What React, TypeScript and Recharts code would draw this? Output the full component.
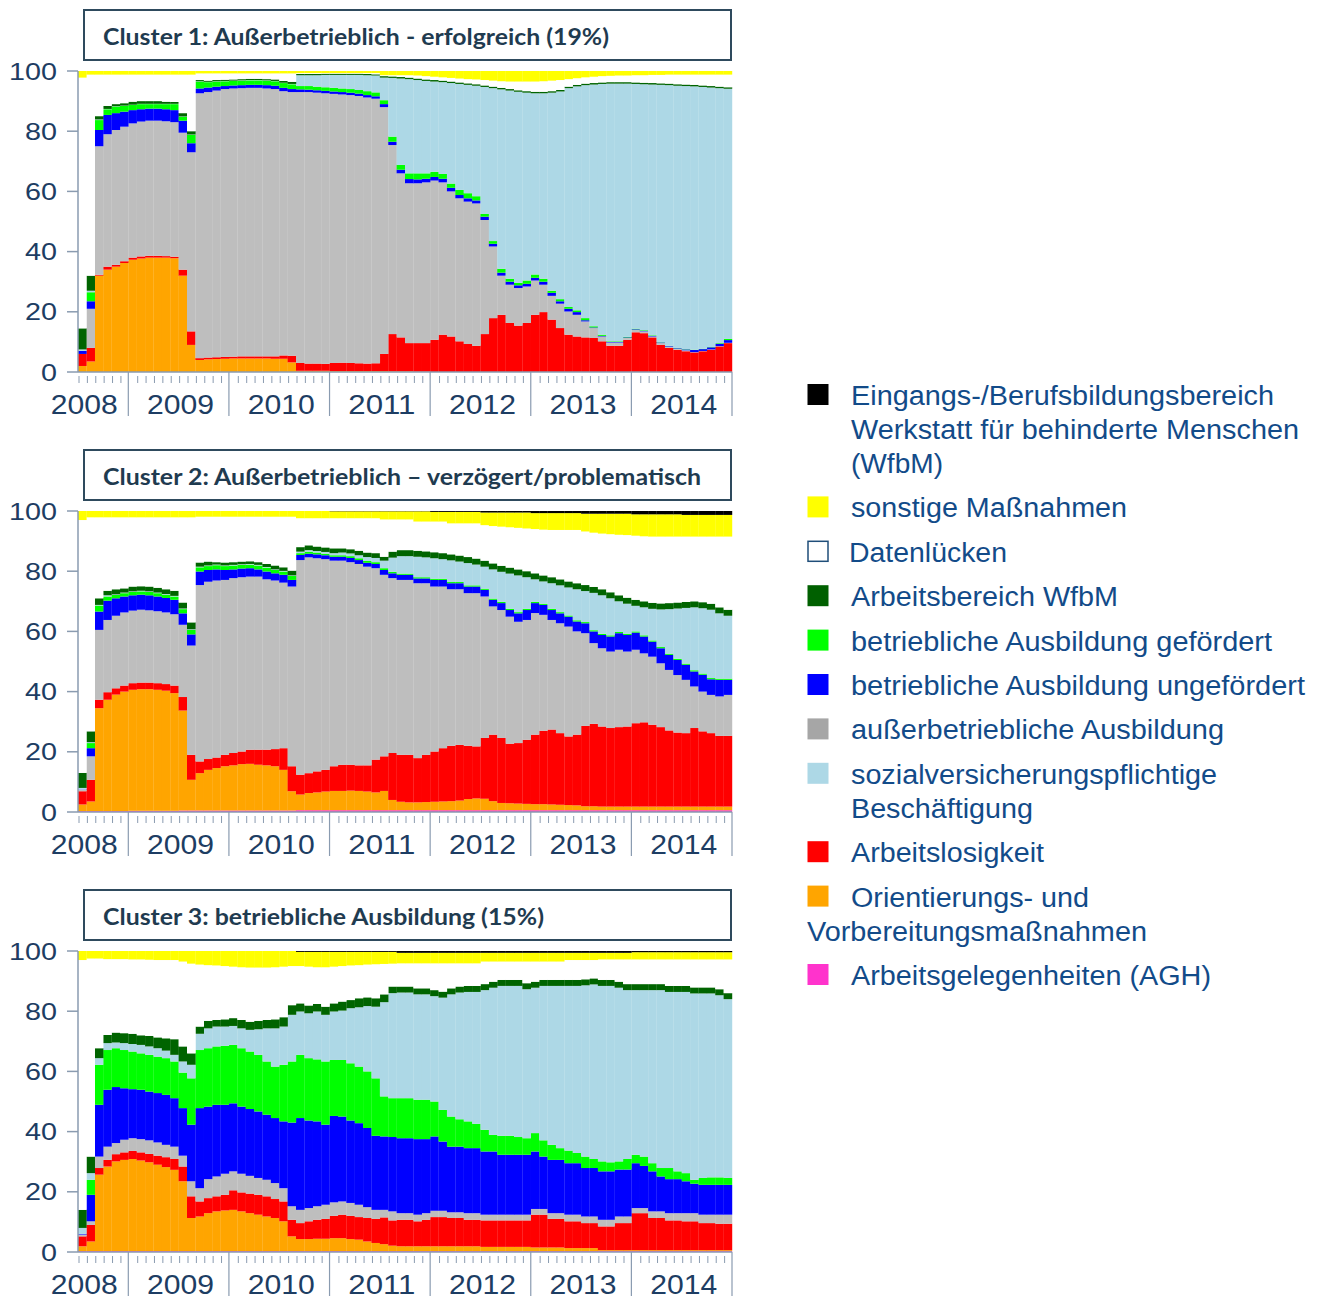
import { BarChart, Bar, XAxis, YAxis } from 'recharts'

// Monate Juli 2008 bis Dezember 2014
const YEARS = ['2008', '2009', '2010', '2011', '2012', '2013', '2014']
const MONTHS: string[] = []
YEARS.forEach((y, yi) => {
  for (let mo = yi === 0 ? 7 : 1; mo <= 12; mo++) MONTHS.push(`${y}-${String(mo).padStart(2, '0')}`)
})

const Y_TICKS = [0, 20, 40, 60, 80, 100]

// Obere Kanten der gestapelten Zustände in Prozent, je Monat
// Cluster 1
const c1Orange = [
  2, 3.5, 32, 34, 35, 36.2,
  37.3, 37.7, 38, 38, 38, 37.8, 32, 9, 4, 4.2, 4.3, 4.4,
  4.5, 4.5, 4.5, 4.5, 4.5, 4.4, 4.4, 3.2, 0.4, 0.4, 0.4, 0.4,
  0.3, 0.3, 0.3, 0.3, 0.3, 0.3, 0.3, 0.2, 0.2, 0.2, 0.1, 0.1,
  0, 0, 0, 0, 0, 0, 0, 0, 0, 0, 0, 0,
  0, 0, 0, 0, 0, 0, 0, 0, 0, 0, 0, 0,
  0, 0, 0, 0, 0, 0, 0, 0, 0, 0, 0, 0,
]
const c1Red = [
  6, 8, 32.3, 35, 35.6, 36.8,
  38, 38.4, 38.6, 38.6, 38.5, 38.3, 34, 13.5, 4.6, 4.8, 4.9, 5,
  5.1, 5.2, 5.2, 5.2, 5.2, 5.2, 5.5, 5.4, 3, 2.8, 2.8, 2.7,
  3, 3.1, 3, 2.9, 2.8, 2.9, 6, 12.6, 11.5, 9.6, 9.6, 9.6,
  10.7, 12.4, 11.8, 10.2, 9.3, 8.7, 12.6, 17.9, 19, 16.3, 15.4, 16.3,
  19, 19.9, 17.4, 14.6, 12.4, 11.8, 11.5, 11.3, 10.2, 8.7, 8.7, 10.7,
  13.2, 12.9, 11.5, 9, 8, 7.4, 6.9, 6.5, 6.9, 7.4, 8.5, 9.6,
]
const c1Gray = [
  6, 21, 75, 79, 80.4, 81.5,
  82.6, 83.2, 83.5, 83.5, 83.3, 83, 79.5, 73, 92.6, 93, 93.5, 94,
  94.2, 94.3, 94.4, 94.4, 94.2, 94, 93.3, 93, 93, 93, 92.8, 92.6,
  92.4, 92.2, 92, 91.7, 91.2, 90.8, 88, 75.4, 66, 62.7, 62.7, 63,
  63.6, 63, 60, 57.7, 56.6, 56, 50.5, 41.7, 32, 29, 27.9, 28.4,
  30.4, 29, 25.3, 22.7, 20.1, 19, 16.8, 14.6, 11.8, 9.8, 9.8, 11.3,
  14, 13.5, 11.8, 9.6, 8.4, 7.7, 7.2, 6.6, 7, 7.5, 8.6, 9.7,
]
const c1Blue = [
  7, 23.5, 80.4, 85.4, 86, 86.5,
  87, 87.3, 87.5, 87.5, 87.3, 87, 83.5, 76, 94.2, 94.5, 94.8, 95,
  95.2, 95.3, 95.4, 95.4, 95.3, 95.1, 94.4, 94, 93.9, 93.8, 93.6, 93.4,
  93.2, 93, 92.8, 92.5, 92, 91.6, 89, 76.5, 67.2, 64.1, 64, 64.2,
  64.8, 64.2, 61.2, 58.8, 57.7, 57, 51.6, 42.6, 33, 30, 28.8, 29.3,
  31.3, 30, 26.3, 23.5, 21, 19.9, 17.2, 14.8, 12, 10, 10, 11.5,
  14.2, 13.7, 12, 9.8, 8.6, 7.9, 7.5, 7.3, 7.6, 8.2, 9.4, 10.6,
]
const c1Green = [
  7, 26.5, 83.7, 87.3, 88.2, 88.4,
  88.7, 89, 89, 89, 89, 89, 84.8, 78.8, 96.5, 96.3, 96.5, 96.6,
  96.7, 96.8, 96.9, 96.9, 96.8, 96.6, 96, 95.6, 95, 95, 94.8, 94.6,
  94.4, 94.2, 94, 93.7, 93.3, 92.9, 90.3, 78.2, 68.8, 66, 66, 66,
  66.5, 65.8, 62.6, 60.5, 59.4, 58.4, 52.5, 43.5, 34.3, 31, 29.6, 30.4,
  32.4, 31, 27, 24.2, 21.6, 20.5, 17.9, 15.2, 12.4, 10.2, 10.2, 11.7,
  14.4, 13.9, 12.2, 9.9, 8.7, 8, 7.6, 7.4, 7.7, 8.3, 9.6, 11,
]
const c1LightBlue = [
  7.5, 27, 83.9, 87.4, 88.3, 88.5,
  88.8, 89.1, 89.1, 89.1, 89.1, 89.1, 84.9, 78.9, 96.6, 96.4, 96.6, 96.7,
  96.8, 96.9, 97, 97, 96.9, 96.7, 96.1, 95.7, 98.6, 98.6, 98.6, 98.7,
  98.7, 98.7, 98.7, 98.7, 98.6, 98.5, 97.8, 97.7, 97.5, 97.3, 97, 96.7,
  96.5, 96.3, 96, 95.7, 95.4, 95.1, 94.7, 94.3, 93.9, 93.5, 93.1, 92.8,
  92.6, 92.6, 92.8, 93.2, 94.3, 94.9, 95.3, 95.5, 95.7, 95.8, 95.8, 95.8,
  95.7, 95.6, 95.5, 95.4, 95.3, 95.1, 95, 94.9, 94.7, 94.5, 94.3, 94.1,
]
const c1DarkGreen = [
  14.5, 32, 85, 88.4, 89, 89.3,
  89.8, 90, 90, 90, 89.8, 89.7, 86, 80, 97, 96.8, 97, 97.1,
  97.2, 97.3, 97.4, 97.4, 97.3, 97.2, 96.7, 96.4, 99, 99, 99, 99.1,
  99.1, 99.1, 99.1, 99.1, 99, 98.9, 98.3, 98.2, 98, 97.8, 97.5, 97.2,
  97, 96.8, 96.5, 96.2, 95.9, 95.6, 95.2, 94.8, 94.4, 94, 93.6, 93.3,
  93.1, 93.1, 93.3, 93.7, 94.8, 95.4, 95.8, 96, 96.2, 96.3, 96.3, 96.3,
  96.2, 96.1, 96, 95.9, 95.8, 95.6, 95.5, 95.4, 95.2, 95, 94.8, 94.6,
]
const c1Gap = [
  97.8, 98.8, 98.8, 98.8, 98.8, 98.8,
  98.8, 98.8, 98.8, 98.8, 98.8, 98.8, 98.8, 98.8, 99.2, 99.2, 99.2, 99.2,
  99.2, 99.2, 99.2, 99.2, 99.2, 99.2, 99.2, 99.2, 99.3, 99.3, 99.3, 99.3,
  99.3, 99.3, 99.3, 99.3, 99.3, 99.3, 98.6, 98.6, 98.6, 98.6, 98.5, 98.3,
  98.1, 97.9, 97.7, 97.5, 97.3, 97.2, 97, 96.8, 96.6, 96.5, 96.5, 96.5,
  96.5, 96.6, 96.8, 97, 97.3, 97.6, 97.9, 98.1, 98.3, 98.4, 98.5, 98.5,
  98.6, 98.6, 98.7, 98.7, 98.8, 98.8, 98.8, 98.8, 98.8, 98.8, 98.8, 98.8,
]

// Cluster 2
const c2Pink = [
  0.3, 0.3, 0.3, 0.3, 0.3, 0.3,
  0.4, 0.4, 0.4, 0.4, 0.4, 0.4, 0.5, 0.5, 0.5, 0.5, 0.5, 0.5,
  0.5, 0.5, 0.5, 0.5, 0.5, 0.5, 0.5, 0.5, 0.6, 0.6, 0.6, 0.6,
  0.6, 0.6, 0.6, 0.6, 0.6, 0.6, 0.6, 0.6, 0.6, 0.6, 0.6, 0.6,
  0.6, 0.6, 0.6, 0.6, 0.6, 0.6, 0.6, 0.6, 0.6, 0.6, 0.6, 0.6,
  0.6, 0.6, 0.6, 0.6, 0.6, 0.6, 0.6, 0.6, 0.6, 0.6, 0.6, 0.6,
  0.6, 0.6, 0.6, 0.6, 0.6, 0.6, 0.6, 0.6, 0.6, 0.6, 0.6, 0.6,
]
const c2Orange = [
  2.5, 3.5, 34.5, 37.3, 39, 40,
  40.6, 40.8, 40.8, 40.6, 40.3, 39.5, 33.7, 10.7, 12.9, 14, 14.6, 15.2,
  15.5, 15.9, 16, 15.7, 15.5, 15.2, 14, 6.9, 5.8, 6.3, 6.5, 6.8,
  7, 7, 7.1, 7, 6.8, 6.5, 7, 4, 3.4, 3.2, 3.2, 3.3,
  3.4, 3.5, 3.6, 3.8, 4.3, 4.5, 4.4, 3.6, 3, 2.9, 2.8, 2.7,
  2.6, 2.6, 2.5, 2.4, 2.3, 2.2, 1.9, 1.9, 1.8, 1.8, 1.8, 1.8,
  1.8, 1.8, 1.8, 1.8, 1.8, 1.8, 1.8, 1.8, 1.8, 1.8, 1.8, 1.8,
]
const c2Red = [
  6.9, 10.7, 37.3, 39.8, 41.1, 42,
  42.8, 43, 43, 42.8, 42.5, 42, 38.2, 19, 16.8, 17.6, 18.1, 19,
  19.6, 20.1, 20.7, 20.7, 20.7, 20.9, 21.2, 15.2, 12.4, 12.9, 13.5, 14,
  15.2, 15.7, 15.7, 15.5, 15.5, 17.4, 18.5, 19.6, 19, 19, 17.9, 19,
  20.1, 21.2, 22, 22.3, 22, 21.8, 24.6, 25.7, 24.6, 22.7, 22.9, 24,
  25.7, 27, 27.4, 26.2, 25.1, 25.7, 28.6, 29.3, 28.4, 27.9, 28.2, 28.4,
  29.5, 29.8, 29, 28.2, 27.1, 26.4, 26.2, 27.9, 26.8, 26.2, 25.3, 25.3,
]
const c2Gray = [
  7.4, 18.5, 60.5, 63.8, 65.2, 66.3,
  66.9, 67.2, 67, 66.7, 66.3, 65.7, 62.2, 55.3, 75.4, 76.5, 76.9, 77.1,
  77.7, 78, 78.2, 78.2, 77.3, 76.9, 76.2, 74.9, 83.7, 84.6, 84.3, 84,
  83.5, 83.5, 83, 82.4, 81.5, 81, 78.8, 77.7, 77.1, 77.1, 76, 76,
  74.9, 74.9, 74, 74, 72.7, 72.7, 71.6, 68.3, 67.1, 64.9, 63.2, 63.8,
  66.1, 65.5, 63.8, 62.7, 61.6, 60, 59.4, 56.1, 54.4, 53.3, 53.9, 53.3,
  53.9, 52.7, 51.6, 49.4, 47.2, 45.5, 43.9, 41.7, 40, 38.9, 38.4, 38.9,
]
const c2Blue = [
  7.5, 21.2, 66.6, 70.2, 71, 71.6,
  72, 72.2, 72, 71.6, 71.1, 70.5, 66, 59, 79.9, 80.4, 80.6, 80.4,
  80.6, 80.9, 81, 80.6, 79.9, 79.3, 78.8, 77.1, 85.4, 85.8, 85.6, 85.3,
  84.8, 84.8, 84.4, 83.7, 82.8, 82.4, 80.4, 79.3, 78.8, 78.8, 77.6, 77.6,
  77.1, 77.1, 76, 76, 74.9, 74.9, 73.8, 70.5, 69.4, 67.1, 66, 67.1,
  69.4, 68.8, 67.1, 66, 64.9, 63.3, 62.7, 60, 58.8, 58.3, 59.4, 58.8,
  59.6, 58.3, 56.6, 54.4, 52.2, 50.5, 48.9, 46.7, 45.6, 44.1, 43.9, 43.9,
]
const c2Green = [
  7.5, 22.9, 68.6, 71.6, 72.1, 72.7,
  73.1, 73.3, 73.1, 72.7, 72.2, 71.6, 67.4, 60.5, 81.3, 81.7, 82, 81.7,
  81.9, 82.1, 82.2, 81.9, 81.2, 80.4, 79.9, 78.4, 86, 86.5, 86.2, 85.8,
  85.3, 85.3, 85, 84.3, 83.4, 83, 81, 79.8, 79.2, 79.2, 78, 78,
  77.5, 77.5, 76.4, 76.4, 75.3, 75.3, 74.2, 70.9, 69.8, 67.5, 66.4, 67.5,
  69.8, 69.2, 67.5, 66.4, 65.3, 63.7, 63.1, 60.4, 59.2, 58.7, 59.8, 59.2,
  60, 58.7, 57, 54.8, 52.6, 50.9, 49.3, 47.1, 46, 44.5, 44.3, 44.3,
]
const c2LightBlue = [
  8, 23.2, 68.8, 72, 72.3, 72.9,
  73.3, 73.5, 73.3, 72.9, 72.4, 71.8, 67.6, 60.7, 81.5, 81.9, 82.2, 81.9,
  82.1, 82.3, 82.4, 82.1, 81.4, 80.6, 80.1, 78.6, 86.5, 87, 86.7, 86.4,
  86, 86.2, 85.9, 85.3, 84.7, 84.4, 83.5, 84.5, 85, 85, 84.8, 84.6,
  84.3, 84, 83.6, 83.2, 82.7, 82.2, 81.5, 80.6, 79.8, 79.2, 78.6, 78,
  77.3, 76.6, 76, 75.3, 74.6, 74, 73.4, 72.8, 72, 71, 70, 69.2,
  68.5, 68, 67.5, 67.3, 67.4, 67.6, 67.8, 68, 67.7, 67.2, 66, 65.2,
]
const c2DarkGreen = [
  13, 26.8, 71, 73.5, 74, 74.3,
  74.9, 75, 74.9, 74.5, 74, 73.5, 69.6, 63, 82.9, 83.2, 83, 82.9,
  83, 83.2, 83.3, 83, 82.4, 81.9, 81.3, 80.2, 88, 88.6, 88.2, 87.9,
  87.6, 87.6, 87.3, 86.8, 86.2, 86, 84.8, 86.5, 87, 87, 86.8, 86.6,
  86.3, 86, 85.6, 85.2, 84.7, 84.2, 83.5, 82.6, 81.8, 81.2, 80.6, 80,
  79.3, 78.6, 78, 77.3, 76.6, 76, 75.4, 74.8, 74, 73, 72, 71.2,
  70.5, 70, 69.5, 69.3, 69.4, 69.6, 69.8, 70, 69.7, 69.2, 68, 67.2,
]
const c2Gap = [
  97, 97.9, 97.9, 97.9, 97.9, 97.9,
  97.9, 97.9, 97.9, 97.9, 97.9, 97.9, 97.9, 97.9, 98.1, 98.1, 98.1, 98.1,
  98.1, 98.1, 98.1, 98.1, 98.1, 98.1, 98.1, 98.1, 97.6, 97.6, 97.6, 97.6,
  97.6, 97.6, 97.6, 97.6, 97.6, 97.6, 97.2, 97.2, 97.2, 97.2, 96.5, 96.5,
  96.5, 96.5, 95.9, 95.9, 95.9, 95.9, 95.3, 95, 94.8, 94.6, 94.4, 94.2,
  94, 93.8, 93.7, 93.7, 93.7, 93.7, 93.2, 92.8, 92.5, 92.3, 92.1, 92,
  91.8, 91.6, 91.5, 91.5, 91.5, 91.5, 91.5, 91.5, 91.5, 91.5, 91.5, 91.5,
]
const c2Yellow = [
  100, 100, 100, 100, 100, 100,
  100, 100, 100, 100, 100, 100, 100, 100, 100, 100, 100, 100,
  100, 100, 100, 100, 100, 100, 100, 100, 100, 100, 100, 100,
  99.9, 99.9, 99.9, 99.9, 99.9, 99.9, 99.9, 99.9, 99.9, 99.9, 99.9, 99.9,
  99.7, 99.7, 99.7, 99.7, 99.7, 99.7, 99.5, 99.5, 99.5, 99.5, 99.5, 99.5,
  99.3, 99.3, 99.3, 99.3, 99.3, 99.3, 99.1, 99.1, 99.1, 99.1, 99.1, 99.1,
  98.9, 98.9, 98.9, 98.9, 98.9, 98.9, 98.7, 98.7, 98.7, 98.7, 98.7, 98.7,
]

// Cluster 3
const c3Pink = [
  0.3, 0.3, 0.3, 0.3, 0.3, 0.3,
  0.3, 0.3, 0.3, 0.3, 0.3, 0.3, 0.3, 0.3, 0.3, 0.3, 0.3, 0.3,
  0.3, 0.3, 0.3, 0.3, 0.3, 0.3, 0.3, 0.3, 0.3, 0.3, 0.3, 0.3,
  0.3, 0.3, 0.3, 0.3, 0.3, 0.3, 0.3, 0.3, 0.3, 0.3, 0.3, 0.3,
  0.3, 0.3, 0.3, 0.3, 0.3, 0.3, 0.3, 0.3, 0.3, 0.3, 0.3, 0.3,
  0.3, 0.3, 0.3, 0.3, 0.3, 0.3, 0.3, 0.3, 0.3, 0.3, 0.3, 0.3,
  0.3, 0.3, 0.3, 0.3, 0.3, 0.3, 0.3, 0.3, 0.3, 0.3, 0.3, 0.3,
]
const c3Orange = [
  1.9, 3.5, 25.7, 28.4, 30.1, 30.6,
  30.9, 30.4, 29.8, 29, 28.2, 27.3, 23.5, 11.3, 11.8, 12.9, 13.5, 13.8,
  14, 13.5, 12.9, 12.4, 11.8, 11.3, 10.2, 5.2, 4.3, 4.3, 4.4, 4.4,
  4.6, 4.6, 4.3, 4.1, 3.5, 3, 2.6, 2.1, 1.9, 1.9, 1.9, 1.9,
  1.9, 1.9, 1.9, 1.9, 1.9, 1.9, 1.7, 1.7, 1.7, 1.7, 1.7, 1.7,
  1.5, 1.5, 1.5, 1.5, 1.3, 1.3, 1.3, 1.3, 0.6, 0.6, 0.6, 0.6,
  0.6, 0.6, 0.6, 0.6, 0.6, 0.6, 0.6, 0.6, 0.6, 0.6, 0.6, 0.6,
]
const c3Red = [
  5.2, 9, 27.9, 30.6, 32.5, 33.1,
  33.6, 33.1, 32.6, 32, 31.5, 30.9, 28.4, 18.5, 16.8, 17.9, 18.5, 19,
  20.5, 19.8, 19.4, 19, 18.5, 17.6, 16.8, 10.7, 9.6, 10.2, 10.7, 11,
  12, 12.4, 12, 11.6, 11.3, 11, 11.5, 10.5, 10.7, 10.7, 10.2, 10.7,
  11.6, 11.6, 11.3, 11.3, 10.7, 10.7, 10.5, 10.5, 10.5, 10.5, 10.5, 10.5,
  12.4, 12.4, 11, 11, 10.2, 10.2, 9.6, 9.6, 8.5, 8.5, 9.6, 9.6,
  12.9, 12.9, 11.3, 11.3, 10.5, 10.5, 10.2, 10.2, 9.6, 9.6, 9.4, 9.4,
]
const c3Gray = [
  5.8, 10.2, 31.7, 35, 36.2, 37.3,
  37.8, 37.5, 37.1, 36.4, 35.6, 35, 32, 23.5, 21.2, 24.2, 25.1, 26,
  26.8, 26, 25.3, 24.6, 24, 22.9, 21.2, 15.2, 14, 14.6, 15.2, 15.7,
  16.5, 16.8, 16.3, 15.7, 14.9, 14, 14, 13.5, 12.9, 12.9, 12.4, 12.9,
  13.7, 13.7, 13.2, 13.2, 12.9, 12.9, 12.4, 12.4, 12.4, 12.4, 12.4, 12.4,
  14.3, 14.3, 12.9, 12.9, 12.4, 12.4, 11.8, 11.8, 10.7, 10.7, 11.8, 11.8,
  14.6, 14.6, 13.5, 13.5, 12.9, 12.9, 12.9, 12.9, 12.4, 12.4, 12.4, 12.4,
]
const c3Blue = [
  6, 19, 48.9, 53.9, 54.8, 54.4,
  54.1, 53.9, 53.3, 52.8, 52.2, 51.1, 47.8, 42.3, 47.8, 48.3, 48.9, 48.9,
  49.4, 48.3, 47.5, 46.7, 45.6, 44.5, 43.4, 43, 44.5, 43.7, 43.4, 42.3,
  45.2, 45, 43.7, 42.8, 41.2, 38.6, 38.4, 38.2, 37.8, 37.8, 37.5, 37.5,
  38.4, 36.7, 35, 35, 34.5, 34.5, 33.4, 33.4, 32.3, 32.3, 32.3, 32.3,
  33.4, 31.7, 30.6, 30.6, 29.5, 29.5, 27.9, 27.9, 26.8, 26.8, 27.4, 27.4,
  29.5, 28.6, 26.8, 25.1, 24.2, 24.2, 23.5, 22.7, 22.3, 22.3, 22.3, 22.3,
]
const c3Green = [
  6, 24, 62.2, 67.1, 67.7, 67.1,
  66.6, 66, 65.5, 64.9, 64.4, 63.3, 59.6, 57.7, 67.1, 67.7, 68.3, 68.5,
  68.8, 67.7, 66.6, 65.5, 63.3, 61.6, 62.2, 63.3, 65.5, 64.4, 64, 63.3,
  63.8, 63.8, 62.7, 61.6, 60, 57.7, 51.7, 51.1, 51.1, 51.1, 50.6, 50.6,
  50, 47.2, 45, 44.1, 43.4, 42.6, 40.6, 38.9, 38.6, 38.6, 38.2, 37.8,
  39.5, 37.1, 35.6, 34.5, 33.7, 32.9, 31.7, 30.9, 30.1, 29.8, 30.1, 30.9,
  32.3, 31.7, 29.5, 27.9, 27.9, 26.8, 26.2, 24, 24.6, 24.8, 24.8, 24.6,
]
const c3LightBlue = [
  8, 26.2, 64.4, 69.4, 69.6, 69.4,
  69.1, 68.8, 68.3, 67.7, 66.9, 65.5, 63.3, 62.2, 72.5, 74.3, 74.9, 74.9,
  75.1, 74.3, 73.8, 74, 74.3, 74.3, 74.9, 78.8, 79.9, 79.3, 79.9, 78.8,
  79.9, 80.2, 81, 81.3, 81.7, 81.5, 83, 86, 86.2, 86.2, 85.6, 85.6,
  85, 84.5, 85.6, 86.2, 86.4, 86.4, 87, 87.8, 88.4, 88.4, 88.4, 87.3,
  87.8, 88.4, 88.4, 88.4, 88.4, 88.4, 88.6, 88.9, 88.4, 88.4, 87.8, 87,
  87, 87, 87, 87, 86.4, 86.4, 86.4, 85.9, 85.9, 85.9, 85.3, 84,
]
const c3DarkGreen = [
  14, 31.7, 67.7, 72.1, 72.9, 72.7,
  72.5, 72, 71.8, 71.3, 71, 70.7, 68.3, 66, 74.9, 76.8, 77.1, 77.3,
  77.7, 77.1, 76.5, 76.8, 77.1, 77.3, 78, 82, 82.6, 81.9, 82.4, 81.5,
  82.6, 83.2, 83.7, 84.3, 84.6, 84.3, 85.6, 88.2, 88.2, 88.2, 87.6, 87.6,
  87, 86.5, 87.6, 88.2, 88.4, 88.4, 89, 89.8, 90.4, 90.4, 90.4, 89.3,
  89.8, 90.4, 90.4, 90.4, 90.4, 90.4, 90.6, 90.9, 90.4, 90.4, 89.8, 89,
  89, 89, 89, 89, 88.4, 88.4, 88.4, 87.9, 87.9, 87.9, 87.3, 86,
]
const c3Gap = [
  97, 97.5, 97.5, 97.3, 97.3, 97.3,
  97.2, 97.2, 97.1, 97, 97, 97, 96.5, 95.8, 95.5, 95.3, 95.2, 95,
  94.8, 94.6, 94.5, 94.5, 94.5, 94.6, 94.8, 95, 95, 94.8, 94.6, 94.6,
  94.8, 95, 95.2, 95.3, 95.5, 95.6, 95.7, 95.8, 95.9, 95.9, 95.9, 95.9,
  95.9, 95.9, 95.9, 95.9, 95.9, 95.9, 96.5, 96.5, 96.5, 96.5, 96.5, 96.5,
  96.5, 96.5, 96.5, 96.5, 97, 97, 97, 97, 97.2, 97.2, 97.2, 97.2,
  97.2, 97.2, 97.2, 97.2, 97.2, 97.2, 97.2, 97.2, 97.2, 97.2, 97.2, 97.2,
]
const c3Yellow = [
  100, 100, 100, 100, 100, 100,
  100, 100, 100, 100, 100, 100, 100, 100, 100, 100, 100, 100,
  100, 100, 100, 100, 100, 100, 100, 100, 99.7, 99.7, 99.7, 99.7,
  99.7, 99.7, 99.7, 99.7, 99.7, 99.7, 99.7, 99.7, 99.4, 99.4, 99.4, 99.4,
  99.4, 99.4, 99.4, 99.4, 99.4, 99.4, 99.4, 99.4, 99.4, 99.4, 99.4, 99.4,
  99.4, 99.4, 99.4, 99.4, 99.4, 99.4, 99.4, 99.4, 99.4, 99.4, 99.4, 99.4,
  99.6, 99.6, 99.6, 99.6, 99.6, 99.6, 99.6, 99.6, 99.6, 99.6, 99.6, 99.6,
]

// Stapelreihenfolge von unten nach oben
interface SeriesDef {
  key: string
  color: string
}

const SERIES: SeriesDef[] = [
  { key: 'agh', color: '#ff33cc' },
  { key: 'orient', color: '#ffa500' },
  { key: 'alo', color: '#ff0000' },
  { key: 'ausserbetr', color: '#bebebe' },
  { key: 'ungef', color: '#0000ff' },
  { key: 'gef', color: '#00ff00' },
  { key: 'svb', color: '#add8e6' },
  { key: 'wfbm', color: '#006400' },
  { key: 'luecke', color: '#ffffff' },
  { key: 'sonst', color: '#ffff00' },
  { key: 'eingang', color: '#000000' },
]

interface LegendItem {
  color: string
  hollow?: boolean
  lines: string[]
  widths: number[]
  dx?: number[]
}

const LEGEND: LegendItem[] = [
  { color: '#000000', lines: ['Eingangs-/Berufsbildungsbereich', 'Werkstatt für behinderte Menschen', '(WfbM)'], widths: [423, 448, 92] },
  { color: '#ffff00', lines: ['sonstige Maßnahmen'], widths: [276] },
  { color: '#ffffff', hollow: true, lines: ['Datenlücken'], widths: [158], dx: [-2] },
  { color: '#006000', lines: ['Arbeitsbereich WfbM'], widths: [267] },
  { color: '#00ff00', lines: ['betriebliche Ausbildung gefördert'], widths: [421] },
  { color: '#0000ff', lines: ['betriebliche Ausbildung ungefördert'], widths: [454] },
  { color: '#a6a6a6', lines: ['außerbetriebliche Ausbildung'], widths: [373] },
  { color: '#add8e6', lines: ['sozialversicherungspflichtige', 'Beschäftigung'], widths: [366, 182] },
  { color: '#ff0000', lines: ['Arbeitslosigkeit'], widths: [193] },
  { color: '#ffa500', lines: ['Orientierungs- und', 'Vorbereitungsmaßnahmen'], widths: [238, 340], dx: [0, -44] },
  { color: '#ff33cc', lines: ['Arbeitsgelegenheiten (AGH)'], widths: [360] },
]

const AXIS = '#8a9bb0'
const LABEL = '#1d3d63'
const LEGEND_TEXT = '#124b89'
const SANS = '"Liberation Sans", Arial, sans-serif'

const CHART_W = 740
const PLOT_LEFT = 78
const PLOT_RIGHT = 8
const PLOT_TOP = 71
const PLOT_H = 301
const AXIS_Y = PLOT_TOP + PLOT_H
const BAND = (CHART_W - PLOT_LEFT - PLOT_RIGHT) / MONTHS.length

type Row = Record<string, string | number>

function stackRows(layers: [string, number[]][], fillKey: string): Row[] {
  return MONTHS.map((m, i) => {
    const row: Row = { m }
    let prev = 0
    for (const [key, tops] of layers) {
      row[key] = Math.max(0, tops[i] - prev)
      prev = Math.max(prev, tops[i])
    }
    row[fillKey] = Math.max(0, 100 - prev)
    return row
  })
}

// leicht überlappende Rechtecke, damit keine weißen Fugen zwischen den Monaten entstehen
function SeamlessRect(props: any) {
  const { x, y, width, height, fill } = props
  if (!height || height <= 0) return <g />
  return <rect x={x} y={y} width={width + 0.6} height={height} fill={fill} />
}

function MonthTick(props: any) {
  const { x, index, payload } = props
  const [year, month] = String(payload.value).split('-')
  const left = x - BAND / 2
  const isJan = month === '01'
  const isLast = index === MONTHS.length - 1
  let labelX: number | null = null
  if (isJan) labelX = left + 6 * BAND + 2
  if (index === 0) labelX = x + 2
  return (
    <g>
      {isJan ? (
        <line x1={left} x2={left} y1={AXIS_Y} y2={AXIS_Y + 44} stroke={AXIS} strokeWidth={1.2} />
      ) : (
        <line x1={left + 1} x2={left + 1} y1={AXIS_Y + 4} y2={AXIS_Y + 11} stroke={AXIS} strokeWidth={1} />
      )}
      {isLast && <line x1={left + BAND} x2={left + BAND} y1={AXIS_Y} y2={AXIS_Y + 44} stroke={AXIS} strokeWidth={1.2} />}
      {labelX !== null && (
        <text
          x={labelX}
          y={AXIS_Y + 42}
          textAnchor="middle"
          fontSize={27}
          fontFamily={SANS}
          fill={LABEL}
          textLength={67}
          lengthAdjust="spacingAndGlyphs"
        >
          {year}
        </text>
      )}
    </g>
  )
}

function ValueTick(props: any) {
  const { x, y, payload } = props
  const label = String(payload.value)
  return (
    <text
      x={x}
      y={y + 8.5}
      textAnchor="end"
      fontSize={24}
      fontFamily={SANS}
      fill={LABEL}
      textLength={label.length * 16}
      lengthAdjust="spacingAndGlyphs"
    >
      {label}
    </text>
  )
}

interface ClusterChartProps {
  title: string
  titleWidth: number
  top: number
  layers: [string, number[]][]
  fillKey: string
}

function ClusterChart({ title, titleWidth, top, layers, fillKey }: ClusterChartProps) {
  const data = stackRows(layers, fillKey)
  const keys = [...layers.map((l) => l[0]), fillKey]
  return (
    <div style={{ position: 'absolute', left: 0, top, width: CHART_W, height: 425 }}>
      <BarChart
        width={CHART_W}
        height={425}
        data={data}
        margin={{ top: PLOT_TOP, right: PLOT_RIGHT, bottom: 0, left: 0 }}
        barCategoryGap={0}
        barGap={0}
      >
        <XAxis
          dataKey="m"
          interval={0}
          height={425 - PLOT_TOP - PLOT_H}
          tickLine={false}
          axisLine={{ stroke: AXIS, strokeWidth: 1.5 }}
          tick={(p: any) => <MonthTick {...p} />}
        />
        <YAxis
          type="number"
          domain={[0, 100]}
          ticks={Y_TICKS}
          width={PLOT_LEFT}
          tickSize={11}
          tickMargin={10}
          allowDataOverflow
          axisLine={{ stroke: AXIS, strokeWidth: 1.5 }}
          tickLine={{ stroke: AXIS, strokeWidth: 1.5 }}
          tick={(p: any) => <ValueTick {...p} />}
        />
        {SERIES.filter((s) => keys.includes(s.key)).map((s) => (
          <Bar
            key={s.key}
            dataKey={s.key}
            stackId="a"
            fill={s.color}
            shape={(p: any) => <SeamlessRect {...p} />}
            isAnimationActive={false}
          />
        ))}
      </BarChart>
      <div
        style={{
          position: 'absolute',
          left: 83,
          top: 9,
          width: 649,
          height: 52,
          border: '2px solid #2e4a5d',
          boxSizing: 'border-box',
          background: '#fff',
        }}
      >
        <svg width={645} height={48} style={{ display: 'block' }}>
          <text
            x={18}
            y={33.5}
            fontSize={23}
            fontWeight={700}
            fontFamily="Lato, 'Open Sans', sans-serif"
            fill="#1f3b50"
            textLength={titleWidth}
            lengthAdjust="spacingAndGlyphs"
          >
            {title}
          </text>
        </svg>
      </div>
    </div>
  )
}

function LegendPanel() {
  const ox = 800
  const oy = 370
  let base = 405
  const items = LEGEND.map((item, i) => {
    const first = base
    const texts = item.lines.map((line, li) => (
      <text
        key={li}
        x={851 - ox + (item.dx ? item.dx[li] : 0)}
        y={first + li * 34 - oy}
        fontSize={27}
        fontFamily={SANS}
        fill={LEGEND_TEXT}
        textLength={item.widths[li]}
        lengthAdjust="spacingAndGlyphs"
      >
        {line}
      </text>
    ))
    base = first + (item.lines.length - 1) * 34 + 44.4
    return (
      <g key={i}>
        <rect
          x={item.hollow ? 808 - ox : 807.5 - ox}
          y={first - 21 - oy + (item.hollow ? 0.5 : 0)}
          width={item.hollow ? 20 : 21}
          height={item.hollow ? 20 : 21}
          fill={item.color}
          stroke={item.hollow ? '#1f4e79' : 'none'}
          strokeWidth={item.hollow ? 1.5 : 0}
        />
        {texts}
      </g>
    )
  })
  return (
    <svg width={532} height={640} style={{ position: 'absolute', left: ox, top: oy }}>
      {items}
    </svg>
  )
}

export default function App() {
  return (
    <div
      style={{
        position: 'absolute',
        left: 0,
        top: 0,
        width: 1332,
        height: 1300,
        overflow: 'hidden',
        background: '#ffffff',
      }}
    >
      <ClusterChart
        title="Cluster 1: Außerbetrieblich - erfolgreich (19%)"
        titleWidth={506}
        top={0}
        fillKey="sonst"
        layers={[
          ['orient', c1Orange],
          ['alo', c1Red],
          ['ausserbetr', c1Gray],
          ['ungef', c1Blue],
          ['gef', c1Green],
          ['svb', c1LightBlue],
          ['wfbm', c1DarkGreen],
          ['luecke', c1Gap],
        ]}
      />
      <ClusterChart
        title="Cluster 2: Außerbetrieblich – verzögert/problematisch"
        titleWidth={598}
        top={440}
        fillKey="eingang"
        layers={[
          ['agh', c2Pink],
          ['orient', c2Orange],
          ['alo', c2Red],
          ['ausserbetr', c2Gray],
          ['ungef', c2Blue],
          ['gef', c2Green],
          ['svb', c2LightBlue],
          ['wfbm', c2DarkGreen],
          ['luecke', c2Gap],
          ['sonst', c2Yellow],
        ]}
      />
      <ClusterChart
        title="Cluster 3: betriebliche Ausbildung (15%)"
        titleWidth={441}
        top={880}
        fillKey="eingang"
        layers={[
          ['agh', c3Pink],
          ['orient', c3Orange],
          ['alo', c3Red],
          ['ausserbetr', c3Gray],
          ['ungef', c3Blue],
          ['gef', c3Green],
          ['svb', c3LightBlue],
          ['wfbm', c3DarkGreen],
          ['luecke', c3Gap],
          ['sonst', c3Yellow],
        ]}
      />
      <LegendPanel />
    </div>
  )
}
